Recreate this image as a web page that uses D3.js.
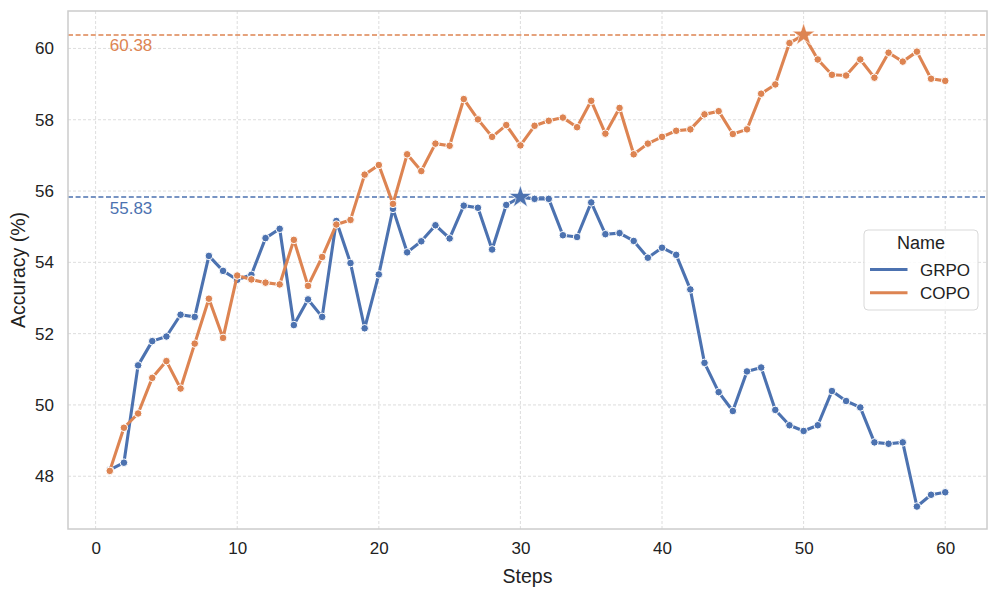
<!DOCTYPE html>
<html>
<head>
<meta charset="utf-8">
<script src="https://cdn.jsdelivr.net/npm/d3@7"></script>
<style>
  html, body { margin: 0; padding: 0; background: #fff; }
  svg { display: block; font-family: "Liberation Sans", Arial, sans-serif; }
</style>
</head>
<body>
<svg id="chart" width="997" height="594"></svg>
<script>
const steps = d3.range(1, 61);
const grpo = [48.18, 48.38, 51.11, 51.79, 51.92, 52.53, 52.47, 54.18, 53.76, 53.51,
              53.65, 54.68, 54.94, 52.24, 52.96, 52.47, 55.16, 53.98, 52.15, 53.66,
              55.50, 54.28, 54.59, 55.04, 54.67, 55.59, 55.53, 54.36, 55.61, 55.83,
              55.78, 55.78, 54.76, 54.71, 55.68, 54.79, 54.82, 54.60, 54.13, 54.41,
              54.21, 53.24, 51.18, 50.36, 49.83, 50.94, 51.05, 49.86, 49.43, 49.27,
              49.43, 50.39, 50.11, 49.93, 48.95, 48.91, 48.95, 47.15, 47.48, 47.55];
const copo = [48.15, 49.36, 49.76, 50.76, 51.23, 50.46, 51.72, 52.98, 51.88, 53.63,
              53.52, 53.43, 53.38, 54.63, 53.34, 54.15, 55.06, 55.19, 56.46, 56.73,
              55.64, 57.03, 56.56, 57.33, 57.27, 58.58, 58.01, 57.52, 57.85, 57.28,
              57.83, 57.97, 58.06, 57.79, 58.53, 57.61, 58.33, 57.03, 57.33, 57.52,
              57.69, 57.73, 58.15, 58.24, 57.60, 57.73, 58.73, 58.99, 60.15, 60.38,
              59.69, 59.26, 59.24, 59.69, 59.18, 59.88, 59.63, 59.91, 59.15, 59.09];
const seriesNames = ["GRPO", "COPO"];
const seriesColors = ["#4c72b0", "#dd8452"];
const xTicks = [0, 10, 20, 30, 40, 50, 60];
const yTicks = [48, 50, 52, 54, 56, 58, 60];
const xLabel = "Steps";
const yLabel = "Accuracy (%)";
const legendTitle = "Name";

const svg = d3.select("#chart");
const L = 68, R = 987, T = 11, B = 529;

const x = d3.scaleLinear().domain([-1.95, 62.95]).range([L, R]);
const y = d3.scaleLinear().domain([46.52, 61.05]).range([B, T]);

// gridlines
const grid = svg.append("g");
grid.selectAll("line.gx").data(xTicks).join("line")
  .attr("x1", d => x(d)).attr("x2", d => x(d)).attr("y1", T).attr("y2", B)
  .attr("stroke", "#d4d4d4").attr("stroke-width", 0.8).attr("stroke-dasharray", "3,2");
grid.selectAll("line.gy").data(yTicks).join("line")
  .attr("y1", d => y(d)).attr("y2", d => y(d)).attr("x1", L).attr("x2", R)
  .attr("stroke", "#d4d4d4").attr("stroke-width", 0.8).attr("stroke-dasharray", "3,2");

// axes (labels only)
const xAxis = svg.append("g").attr("transform", `translate(0,${B})`)
  .call(d3.axisBottom(x).tickValues(xTicks).tickSize(0).tickPadding(13));
const yAxis = svg.append("g").attr("transform", `translate(${L},0)`)
  .call(d3.axisLeft(y).tickValues(yTicks).tickSize(0).tickPadding(14));
[xAxis, yAxis].forEach(a => {
  a.select(".domain").remove();
  a.selectAll("text").attr("font-size", 17).attr("fill", "#222")
    .attr("font-family", "Liberation Sans, Arial, sans-serif");
});

svg.append("text").attr("x", (L + R) / 2).attr("y", 583).attr("text-anchor", "middle")
  .attr("font-size", 19.5).attr("fill", "#222").text(xLabel);
svg.append("text").attr("transform", `translate(25,${(T + B) / 2}) rotate(-90)`)
  .attr("text-anchor", "middle").attr("font-size", 19.5).attr("fill", "#222").text(yLabel);

const data = [grpo, copo];

// reference lines for max
data.forEach((vals, i) => {
  const mx = d3.max(vals);
  svg.append("line").attr("x1", L).attr("x2", R).attr("y1", y(mx)).attr("y2", y(mx))
    .attr("stroke", seriesColors[i]).attr("stroke-width", 1.5).attr("stroke-dasharray", "5,2.6");
  svg.append("text").attr("x", x(1)).attr("y", y(mx) + 16.5)
    .attr("font-size", 17).attr("fill", seriesColors[i]).text(mx.toFixed(2));
});

// series
const line = d3.line().x((d, j) => x(steps[j])).y(d => y(d));
data.forEach((vals, i) => {
  const g = svg.append("g");
  g.append("path").attr("d", line(vals)).attr("fill", "none")
    .attr("stroke", seriesColors[i]).attr("stroke-width", 3.1).attr("stroke-linejoin", "round")
    .attr("stroke-linecap", "round");
  g.selectAll("circle").data(vals).join("circle")
    .attr("cx", (d, j) => x(steps[j])).attr("cy", d => y(d)).attr("r", 3.8)
    .attr("fill", seriesColors[i]).attr("stroke", "#fff").attr("stroke-width", 1);
});
// stars at max
data.forEach((vals, i) => {
  const mx = d3.max(vals);
  const idx = vals.indexOf(mx);
  svg.append("path").attr("d", d3.symbol(d3.symbolStar, 160)())
    .attr("transform", `translate(${x(steps[idx])},${y(mx)})`)
    .attr("fill", seriesColors[i]).attr("stroke", "#fff").attr("stroke-width", 0.6);
});

// frame
svg.append("rect").attr("x", L).attr("y", T).attr("width", R - L).attr("height", B - T)
  .attr("fill", "none").attr("stroke", "#cccccc").attr("stroke-width", 1.5);

// legend
const lg = svg.append("g");
lg.append("rect").attr("x", 864).attr("y", 230).attr("width", 114).attr("height", 80)
  .attr("rx", 4).attr("fill", "#fff").attr("fill-opacity", 0.85)
  .attr("stroke", "#d9d9d9").attr("stroke-width", 1);
lg.append("text").attr("x", 921).attr("y", 249).attr("text-anchor", "middle")
  .attr("font-size", 18).attr("fill", "#222").text(legendTitle);
seriesNames.forEach((n, i) => {
  const yy = 269.5 + i * 23.3;
  lg.append("line").attr("x1", 870).attr("x2", 907.5).attr("y1", yy).attr("y2", yy)
    .attr("stroke", seriesColors[i]).attr("stroke-width", 3);
  lg.append("text").attr("x", 920).attr("y", yy + 6).attr("font-size", 17)
    .attr("fill", "#222").text(n);
});
</script>
</body>
</html>
